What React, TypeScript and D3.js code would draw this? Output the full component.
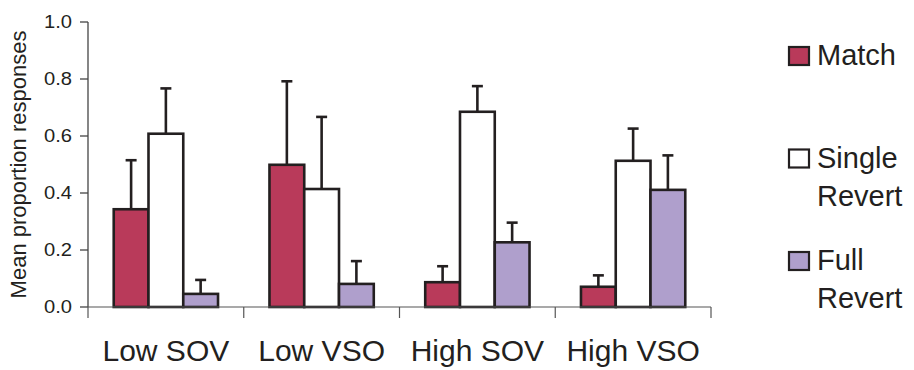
import React from 'react';
import * as d3 from 'd3';

const categories = ['Low SOV', 'Low VSO', 'High SOV', 'High VSO'];
const seriesNames = ['Match', 'Single Revert', 'Full Revert'];
const legendLines = [['Match'], ['Single', 'Revert'], ['Full', 'Revert']];
const colors = ['#B93A5A', '#FFFFFF', '#AF9FCC'];

const matchVals = [0.343, 0.499, 0.087, 0.071];
const matchErr = [0.172, 0.293, 0.056, 0.040];
const singleVals = [0.608, 0.414, 0.685, 0.513];
const singleErr = [0.159, 0.253, 0.090, 0.113];
const fullVals = [0.046, 0.081, 0.227, 0.411];
const fullErr = [0.049, 0.080, 0.069, 0.121];

const yTicks = [0, 0.2, 0.4, 0.6, 0.8, 1.0];

const values = [matchVals, singleVals, fullVals];
const errors = [matchErr, singleErr, fullErr];

const width = 914;
const height = 370;
const font = '"Liberation Sans", Arial, sans-serif';
const ink = '#231F20';

export default function App() {
  const x0 = d3.scaleBand<string>().domain(categories).range([88, 711]).paddingInner(0).paddingOuter(0);
  const x1 = d3.scaleBand<string>().domain(seriesNames).range([0, x0.bandwidth()]).paddingInner(0).paddingOuter(0.74);
  const y = d3.scaleLinear().domain([0, 1]).range([307, 22]);
  const fmt = d3.format('.1f');

  // legend rows
  const legendY = d3.scalePoint<string>().domain(seriesNames).range([65, 270]);

  return (
    <svg width={width} height={height} style={{ position: 'absolute', left: 0, top: 0, background: '#fff' }}>
      {/* y axis */}
      <line x1={88} x2={88} y1={y(1)} y2={y(0)} stroke="#444" strokeWidth={1.3} />
      {yTicks.map(t => (
        <g key={t}>
          <line x1={80} x2={88} y1={y(t)} y2={y(t)} stroke="#444" strokeWidth={1.3} />
          <text
            x={72} y={y(t)} dy="0.35em" textAnchor="end"
            fontFamily={font} fontSize={18} fill={ink}
            transform={`translate(72,0) scale(1.12,1) translate(-72,0)`}
          >{fmt(t)}</text>
        </g>
      ))}
      <text
        transform={`translate(26,${(y(0) + y(1)) / 2}) rotate(-90)`}
        textAnchor="middle" fontFamily={font} fontSize={22} fill={ink}
      >Mean proportion responses</text>

      {/* bars */}
      {categories.map((c, i) => (
        <g key={c} transform={`translate(${x0(c)},0)`}>
          {seriesNames.map((s, k) => {
            const v = values[k][i];
            const e = errors[k][i];
            const bx = x1(s)!;
            const cx = bx + x1.bandwidth() / 2;
            return (
              <g key={s}>
                <line x1={cx} x2={cx} y1={y(v)} y2={y(v + e)} stroke={ink} strokeWidth={2.6} />
                <line x1={cx - 5.5} x2={cx + 5.5} y1={y(v + e)} y2={y(v + e)} stroke={ink} strokeWidth={2.6} />
                <rect x={bx} y={y(v)} width={x1.bandwidth()} height={y(0) - y(v)}
                  fill={colors[k]} stroke={ink} strokeWidth={2.6} />
              </g>
            );
          })}
        </g>
      ))}

      {/* x axis */}
      <line x1={88} x2={711} y1={y(0)} y2={y(0)} stroke="#555" strokeWidth={1.2} />
      {[...categories.map(c => x0(c)!), 711].map((tx, i) => (
        <line key={i} x1={tx} x2={tx} y1={y(0)} y2={y(0) + 11} stroke="#555" strokeWidth={1.2} />
      ))}
      {categories.map(c => (
        <text key={c} x={x0(c)! + x0.bandwidth() / 2} y={361} textAnchor="middle"
          fontFamily={font} fontSize={30} fill={ink}>{c}</text>
      ))}

      {/* legend */}
      {seriesNames.map((s, k) => {
        const by = legendY(s)!;
        return (
          <g key={s}>
            <rect x={789} y={by - 18} width={20} height={18} fill={colors[k]} stroke={ink} strokeWidth={2.2} />
            {legendLines[k].map((ln, j) => (
              <text key={j} x={817} y={by + j * 38} fontFamily={font} fontSize={29} fill={ink}>{ln}</text>
            ))}
          </g>
        );
      })}
    </svg>
  );
}
